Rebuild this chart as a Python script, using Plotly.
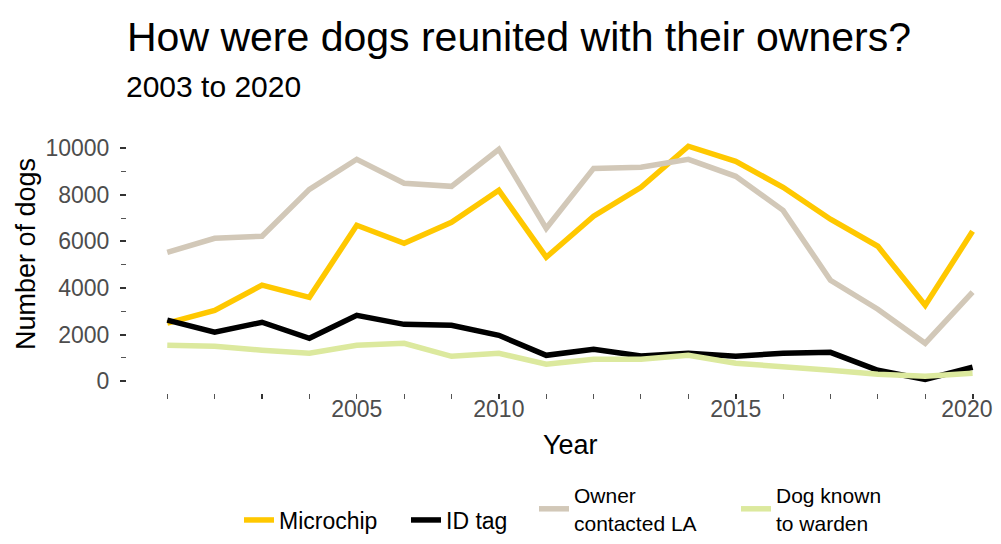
import plotly.graph_objects as go

years = list(range(2003, 2021))
microchip = [2490, 3040, 4120, 3600, 6690, 5920, 6820, 8190, 5320, 7080, 8320, 10080, 9430, 8320, 6950, 5790, 3260, 6430]
id_tag = [2620, 2100, 2530, 1840, 2830, 2440, 2400, 1970, 1110, 1370, 1080, 1200, 1070, 1200, 1240, 470, 80, 600]
owner_la = [5530, 6130, 6220, 8230, 9520, 8490, 8360, 9950, 6560, 9130, 9180, 9520, 8790, 7330, 4330, 3090, 1630, 3820]
warden = [1540, 1500, 1330, 1200, 1540, 1630, 1070, 1200, 730, 940, 940, 1110, 770, 640, 470, 300, 210, 340]

series_names = ["Microchip", "ID tag", "Owner<br>contacted LA", "Dog known<br>to warden"]
series_values = [microchip, id_tag, owner_la, warden]
series_colors = ["#FFC800", "#000000", "#D2C8B8", "#DCE99E"]
series_legend = ["legend", "legend2", "legend3", "legend4"]
legend_x_screen = [239, 406, 534, 736]
legend_y_screen = [520, 520, 509, 509]
legend_font_size = [23, 23, 21, 21]

y_tick_vals = [0, 2000, 4000, 6000, 8000, 10000]
y_tick_text = ["0", "2000", "4000", "6000", "8000", "10000"]
x_major_ticks = [2005, 2010, 2015, 2020]
x_label_pos = [2007, 2010, 2015, 2019.88]
x_label_text = ["2005", "2010", "2015", "2020"]

FONT = "Liberation Sans, Arial, sans-serif"
# page body has an 8px margin: work in screen coords and shift; keep page from scrolling
OFF = 8
W, H = 1001 - OFF, 544 - 2 * OFF
L = 127 - OFF
T = 134 - OFF
B = H - (393 - OFF)
PW, PH = W - L, H - T - B


def px_x(sx):
    return (sx - OFF - L) / PW


def px_y(sy):
    return 1 + (T - (sy - OFF)) / PH


def cx(sx):
    return (sx - OFF) / W


def cy(sy):
    return 1 - (sy - OFF) / H


fig = go.Figure()
for name, vals, col, lg in zip(series_names, series_values, series_colors, series_legend):
    fig.add_trace(go.Scatter(x=years, y=vals, mode="lines", name=name, legend=lg,
                             line=dict(color=col, width=5.5)))

# invisible trace on second x-axis (carries the year labels)
fig.add_trace(go.Scatter(x=[years[0]], y=[0], xaxis="x2", mode="markers",
                         marker=dict(opacity=0), showlegend=False, hoverinfo="skip"))

legends = {}
for lg, sx, sy, fs in zip(series_legend, legend_x_screen, legend_y_screen, legend_font_size):
    legends[lg] = dict(orientation="h", xref="container", yref="container",
                       xanchor="left", yanchor="middle", x=cx(sx), y=cy(sy),
                       font=dict(size=fs, color="black"), itemwidth=30,
                       tracegroupgap=0, bgcolor="rgba(0,0,0,0)")

fig.update_layout(
    width=W, height=H,
    paper_bgcolor="white", plot_bgcolor="white",
    margin=dict(l=L, r=0, t=T, b=B, autoexpand=False),
    font=dict(family=FONT, color="black"),
    title=dict(text="How were dogs reunited with their owners?",
               x=cx(127), xanchor="left", xref="container",
               y=cy(36.5), yanchor="middle", yref="container",
               font=dict(size=41, color="black")),
    annotations=[
        dict(text="2003 to 2020", xref="paper", yref="paper",
             x=px_x(124), xanchor="left", y=px_y(87), yanchor="middle",
             showarrow=False, font=dict(size=30, color="black")),
        dict(text="Year", xref="paper", yref="paper",
             x=px_x(570), xanchor="center", y=px_y(445), yanchor="middle",
             showarrow=False, font=dict(size=27, color="black")),
        dict(text="Number of dogs", xref="paper", yref="paper", textangle=-90,
             x=px_x(26), xanchor="center", y=px_y(254), yanchor="middle",
             showarrow=False, font=dict(size=27, color="black")),
    ],
    xaxis=dict(range=[2002.15, 2020.6], showgrid=False, zeroline=False, showline=False,
               automargin=False,
               tickmode="array", tickvals=x_major_ticks, showticklabels=False,
               ticks="outside", ticklen=5, tickwidth=1.6, tickcolor="#333333",
               minor=dict(dtick=1, tick0=2003, ticks="outside", ticklen=5,
                          tickwidth=1, tickcolor="#555555", showgrid=False)),
    xaxis2=dict(overlaying="x", matches="x", side="bottom", anchor="y",
                automargin=False, ticklabeloverflow="allow",
                showgrid=False, zeroline=False, showline=False,
                tickmode="array", tickvals=x_label_pos, ticktext=x_label_text,
                ticks="", ticklabelstandoff=0,
                tickfont=dict(size=23, color="#4D4D4D")),
    yaxis=dict(range=[-505, 10605], showgrid=False, zeroline=False, showline=False,
               automargin=False,
               tickmode="array", tickvals=y_tick_vals, ticktext=y_tick_text,
               ticks="outside", ticklen=6, tickwidth=1.6, tickcolor="#333333",
               ticklabelstandoff=6,
               tickfont=dict(size=23, color="#4D4D4D"),
               minor=dict(dtick=1000, tick0=0, ticks="outside", ticklen=5,
                          tickwidth=1, tickcolor="#555555", showgrid=False)),
    showlegend=True,
    **legends,
)

fig.write_html("out.html")
